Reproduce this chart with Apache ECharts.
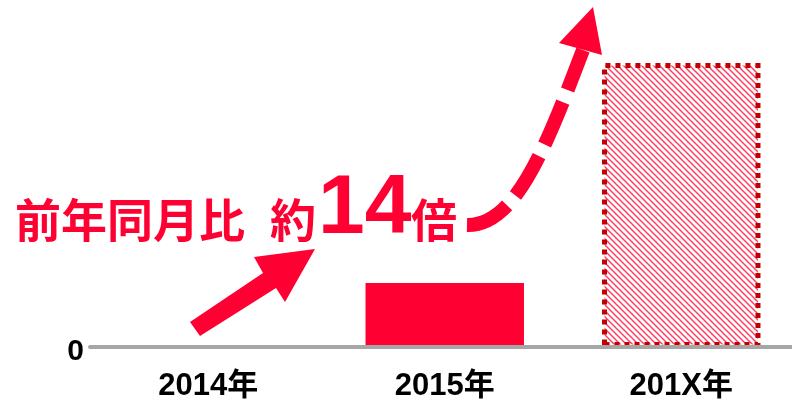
<!DOCTYPE html>
<html>
<head>
<meta charset="utf-8">
<script src="https://cdn.jsdelivr.net/npm/echarts@6/dist/echarts.min.js"></script>
<style>
  html, body { margin: 0; padding: 0; background: #ffffff; }
  #chart { width: 792px; height: 404px; }
</style>
</head>
<body>
<div id="chart"></div>
<script>
// Categories and values (value units: 1 px per unit on the y scale)
const categories = ['2014年', '2015年', '201X年'];
const values = [0, 64, 284];
const yTickLabels = ['0'];

const RED = '#ff0033';
const DARK_RED = '#c00000';

// Diagonal hatch tile for the projected bar
function hatchPattern() {
  const c = document.createElement('canvas');
  c.width = 6; c.height = 6;
  const g = c.getContext('2d');
  g.fillStyle = '#ffffff';
  g.fillRect(0, 0, 6, 6);
  g.strokeStyle = '#ff3c64';
  g.lineWidth = 1.5;
  for (let k = -1; k <= 1; k++) {
    g.beginPath();
    g.moveTo(6 * k - 1, -1);
    g.lineTo(6 * k + 7, 7);
    g.stroke();
  }
  return c;
}

const barData = values.map((v, i) => {
  if (i === values.length - 1) {
    return {
      value: v,
      itemStyle: {
        color: { image: hatchPattern(), repeat: 'repeat' },
        borderColor: DARK_RED,
        borderWidth: 5,
        borderType: [5, 5]
      }
    };
  }
  return { value: v, itemStyle: { color: RED } };
});

const chart = echarts.init(document.getElementById('chart'), null, { renderer: 'canvas' });

const textFontCJK = '"Noto Sans CJK JP", "Liberation Sans", sans-serif';
const textFontNum = '"Liberation Sans", "Noto Sans CJK JP", sans-serif';

chart.setOption({
  animation: false,
  backgroundColor: '#ffffff',
  grid: {
    left: 90, width: 709.5, top: 47, bottom: 57,
    containLabel: false,
    outerBoundsMode: 'none'
  },
  xAxis: {
    type: 'category',
    data: categories,
    z: 5,
    axisLine: { show: true, lineStyle: { color: '#a6a6a6', width: 4 } },
    axisTick: { show: false },
    axisLabel: {
      margin: 24,
      color: '#000000',
      fontSize: 31,
      fontWeight: 'bold',
      fontFamily: textFontNum
    }
  },
  yAxis: {
    type: 'value',
    min: 0,
    max: 300,
    interval: 300,
    axisLine: { show: false },
    axisTick: { show: false },
    splitLine: { show: false },
    axisLabel: {
      margin: 6,
      fontSize: 32,
      formatter: (v) => (v === 0 ? '{zero|' + yTickLabels[0] + '}' : ''),
      rich: {
        zero: {
          color: '#000000',
          fontSize: 30,
          lineHeight: 30,
          fontWeight: 'bold',
          fontFamily: textFontNum,
          padding: [9, 0, 0, 0]
        }
      }
    }
  },
  series: [{
    type: 'bar',
    data: barData,
    barWidth: '67%',
    z: 2
  }],
  graphic: {
    elements: [
      // straight arrow from the 2014 area
      {
        type: 'polygon',
        z: 10,
        shape: {
          points: [[190, 322], [263, 273], [254, 257], [315, 249], [285, 302], [276, 288], [200, 336]]
        },
        style: { fill: RED }
      },
      // dashed curved arrow toward the projected bar
      {
        type: 'bezierCurve',
        z: 10,
        shape: { x1: 467, y1: 225, cpx1: 515, cpy1: 226, cpx2: 545, cpy2: 150, x2: 583, y2: 50 },
        style: { stroke: RED, lineWidth: 14, lineDash: [46, 13], fill: null, lineCap: 'butt' }
      },
      {
        type: 'polygon',
        z: 10,
        shape: { points: [[593, 7], [559, 43], [602, 55]] },
        style: { fill: RED }
      },
      // headline text
      {
        type: 'text',
        z: 10,
        x: 15, y: 220,
        style: { text: '前年同月比', fill: RED, font: 'bold 46px ' + textFontCJK, verticalAlign: 'middle', align: 'left' }
      },
      {
        type: 'text',
        z: 10,
        x: 270, y: 220,
        style: { text: '約', fill: RED, font: 'bold 46px ' + textFontCJK, verticalAlign: 'middle', align: 'left' }
      },
      {
        type: 'text',
        z: 10,
        x: 318, y: 210,
        style: { text: '14', fill: RED, font: 'bold 84px ' + textFontNum, verticalAlign: 'middle', align: 'left' }
      },
      {
        type: 'text',
        z: 10,
        x: 411, y: 220,
        style: { text: '倍', fill: RED, font: 'bold 46px ' + textFontCJK, verticalAlign: 'middle', align: 'left' }
      }
    ]
  }
});
</script>
</body>
</html>
